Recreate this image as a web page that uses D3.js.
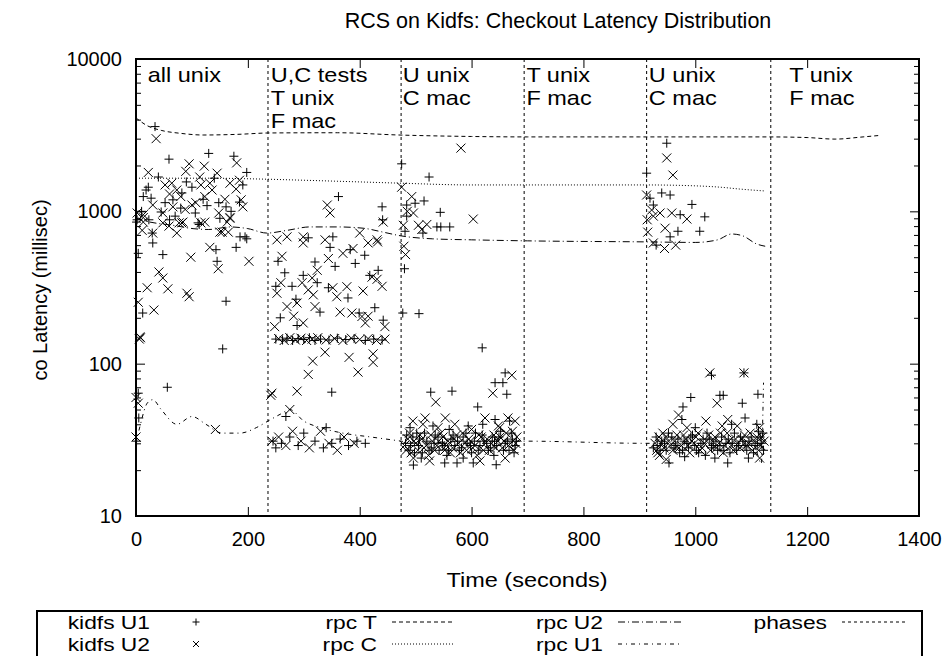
<!DOCTYPE html>
<html>
<head>
<meta charset="utf-8">
<script src="https://cdn.jsdelivr.net/npm/d3@7"></script>
<style>
  body { margin: 0; background: #fff; }
  svg text { font-family: "Liberation Sans", Arial, sans-serif; fill: #000; }
</style>
</head>
<body>
<div class="main"><svg id="svgHolder"></svg></div>
<script>
// time (seconds) / latency (ms)
let titleText = 'RCS on Kidfs: Checkout Latency Distribution';
let xTicks = [0, 200, 400, 600, 800, 1000, 1200, 1400];
let yTicks = [10, 100, 1000, 10000];

let phaseTimes = [236, 474, 694, 913, 1135];
let phaseLabelTimes = [21, 241, 477, 698, 917, 1168];
let phaseLabels = [
  ['all unix'],
  ['U,C tests', 'T unix', 'F mac'],
  ['U unix', 'C mac'],
  ['T unix', 'F mac'],
  ['U unix', 'C mac'],
  ['T unix', 'F mac']
];

let kidfsU1 = [
  [34,3600],[59,2200],[130,2400],[175,2300],[198,1800],[40,1680],[191,1490],[18,1380],[22,1440],[100,1440],
  [82,1320],[13,1250],[27,1220],[66,1190],[52,1140],[127,1090],[148,1140],[161,1070],[106,975],[70,930],
  [1,850],[23,880],[29,720],[60,880],[113,820],[195,680],[2,880],[30,620],[111,840],[186,680],[198,660],
  [143,560],[179,580],[4,530],[48,520],[145,470],[161,257],[12,215],[155,125],[56,70],[4,64],[5,44],[1,31],
  [90,1560],[140,1650],[120,1200],[170,1000],[45,990],[80,1050],[185,1150],[10,1000],[150,900],
  [254,470],[266,395],[250,322],[279,322],[286,265],[258,200],[288,178],[299,380],[308,670],[320,465],
  [324,340],[329,218],[347,580],[356,435],[344,315],[383,560],[379,270],[392,455],[409,515],[418,380],
  [433,410],[427,233],[442,193],[399,215],[362,1250],[440,1070],[441,880],[352,680],[350,65],
  [250,145],[262,143],[270,147],[280,142],[290,146],[300,144],[310,148],[320,142],[330,145],[345,143],
  [360,147],[375,144],[390,146],[410,142],[425,145],[440,143],
  [245,31],[250,28],[260,30],[275,33],[290,29],[300,35],[320,31],[335,28],[350,30],[365,32],[380,29],
  [395,31],[410,30],[268,45],[340,38],
  [475,2050],[524,1680],[499,1130],[515,1170],[484,1100],[544,985],[484,930],[538,790],[545,790],[561,790],
  [481,740],[513,720],[477,215],[506,213],[480,420],[619,127],[660,87],[642,75],[656,75],[663,63],[527,65],
  [565,66],[611,52],[531,39],[594,39],[642,43],[502,35],[496,21.6],[552,22.3],[574,22.3],[603,22.3],[644,21.7],
  [482,30],[488,27],[495,33],[505,29],[512,26],[520,31],[528,28],[535,34],[542,27],[548,30],[556,25],
  [563,32],[570,29],[578,27],[585,33],[592,30],[600,26],[607,35],[615,29],[622,31],[630,27],[637,33],
  [645,29],[652,36],[660,30],[667,27],[673,32],[678,29],[490,38],[560,37],[620,40],[668,42],[510,24],
  [585,24],[640,25],
  [484,34],[491,29],[498,26],[507,32],[516,35],[524,27],[533,30],[540,33],[551,29],[559,27],[567,34],
  [575,31],[582,28],[590,35],[598,29],[605,31],[612,27],[619,34],[627,30],[634,28],[641,31],[649,33],
  [657,27],[664,31],[671,35],[676,26],[680,31],
  [949,2800],[913,1780],[919,1220],[940,1320],[955,1280],[994,1110],[973,950],[1017,920],[925,1100],
  [1008,740],[969,740],[930,600],[955,680],
  [1029,84],[1087,87],[992,60],[1044,62],[1050,62],[1084,55],[1112,63],[978,52],[976,43],[1089,44],
  [932,29],[953,22.3],[981,24.5],[1058,22.3],
  [925,28],[940,31],[948,27],[958,33],[965,29],[972,26],[980,31],[988,28],[995,34],[1002,27],[1010,30],
  [1018,25],[1025,32],[1032,29],[1040,27],[1047,33],[1055,30],[1062,26],[1070,35],[1077,29],[1085,31],
  [1092,27],[1100,33],[1107,29],[1113,36],[1118,30],[1122,27],[1000,38],[1065,40],[1110,40],[1035,24],[1095,24],
  [930,33],[937,27],[945,30],[952,35],[962,28],[969,32],[977,27],[985,30],[992,33],[999,29],[1006,26],
  [1014,32],[1021,35],[1029,28],[1037,31],[1044,29],[1051,27],[1059,32],[1066,30],[1074,27],[1081,33],
  [1089,29],[1096,31],[1104,26],[1111,30],[1116,33],[1121,35]
];

let kidfsU2 = [
  [36,3000],[95,2050],[122,1980],[180,2080],[22,1800],[145,1780],[89,1830],[64,1530],[114,1680],[132,1530],
  [168,1530],[52,1490],[116,1490],[179,1400],[73,1380],[136,1380],[80,1250],[123,1250],[159,1200],[107,1140],
  [188,1190],[66,1070],[88,1030],[191,1070],[48,975],[148,975],[13,910],[168,900],[77,840],[116,840],
  [2,975],[13,850],[11,750],[48,840],[59,800],[73,720],[84,850],[123,850],[154,730],[163,850],[168,910],
  [13,950],[30,720],[82,840],[150,730],[165,730],[132,580],[98,500],[202,470],[147,420],[41,400],[48,365],
  [20,315],[57,310],[91,290],[95,275],[4,253],[32,225],[7,150],[6,145],[8,148],[0,60],[4,55],[0,33],[142,37],
  [100,1100],[60,1300],[185,1600],[30,1100],
  [243,64],[241,62],[243,31],[252,650],[261,507],[259,340],[252,290],[270,237],[288,250],[248,175],[282,205],
  [299,185],[299,620],[297,340],[308,305],[317,283],[324,410],[315,365],[320,237],[338,650],[344,490],
  [352,315],[359,275],[365,218],[370,530],[388,570],[377,320],[386,215],[400,720],[406,300],[404,204],
  [415,620],[422,370],[431,358],[440,322],[432,630],[415,205],[410,185],[445,175],[347,975],[342,1100],
  [442,850],[270,680],[299,680],[431,650],
  [255,146],[265,142],[275,148],[285,143],[295,147],[305,142],[315,145],[325,148],[340,143],[355,146],
  [370,142],[385,147],[400,144],[415,146],[430,142],[445,145],
  [338,119],[316,104],[308,85],[381,110],[397,88],[424,116],[424,102],[288,66],
  [255,33],[268,29],[275,50],[280,36],[295,31],[310,28],[330,36],[345,30],[360,27],[372,33],[390,30],
  [581,2600],[475,1440],[493,1250],[603,890],[496,975],[478,810],[505,810],[520,820],[511,760],[479,590],
  [482,520],[485,1000],[672,84],[638,64],[536,56],[495,42],[513,40],[517,44],[553,44],[570,40],[624,44],
  [648,39],[665,44],[678,42],[660,24],[496,24],
  [480,29],[486,32],[492,26],[500,30],[508,34],[515,28],[523,25],[530,31],[538,29],[545,35],[552,27],
  [558,31],[566,28],[573,34],[580,26],[588,30],[595,32],[602,28],[610,25],[617,33],[625,30],[632,27],
  [640,34],[647,31],[655,28],[662,35],[670,30],[676,27],[681,33],[540,38],[600,37],[650,38],[525,23],[615,23],
  [483,27],[489,35],[497,31],[504,27],[511,32],[519,29],[527,34],[534,27],[541,31],[549,33],[555,29],
  [562,26],[569,32],[577,30],[584,35],[591,27],[598,31],[606,29],[613,34],[621,27],[628,32],[636,30],
  [643,28],[651,33],[658,31],[666,29],[673,36],[679,30],
  [949,2240],[960,1730],[913,1280],[922,1020],[937,975],[958,975],[985,890],[914,880],[925,930],[946,775],
  [915,730],[925,620],[945,570],[965,600],
  [1026,87],[1087,87],[1039,55],[970,46],[942,35],[936,25],[948,23.5],[1115,24],[1019,42],[1058,43],
  [1048,39],[1115,38],[933,26],[960,40],
  [928,30],[935,33],[944,28],[952,31],[960,27],[967,34],[975,29],[983,32],[990,26],[998,30],[1005,35],
  [1012,28],[1020,31],[1027,27],[1035,33],[1042,30],[1050,26],[1057,35],[1064,29],[1072,32],[1080,28],
  [1088,34],[1095,30],[1102,27],[1110,33],[1117,29],[1123,31],[985,38],[1075,39],
  [931,27],[939,30],[947,33],[955,29],[963,31],[971,28],[979,34],[987,29],[994,31],[1001,33],[1009,27],
  [1016,30],[1024,34],[1031,31],[1038,28],[1045,35],[1053,29],[1060,31],[1068,27],[1076,30],[1083,32],
  [1091,29],[1098,35],[1106,31],[1113,27],[1119,33]
];

let rpcT = [[0,4100],[20,3650],[45,3400],[80,3250],[120,3170],[180,3200],[240,3270],[360,3280],[470,3170],
  [600,3100],[700,3080],[900,3080],[1130,3080],[1200,3050],[1250,2980],[1300,3080],[1330,3150]];
let rpcC = [[0,1650],[130,1650],[220,1630],[300,1600],[400,1560],[474,1530],[600,1490],[694,1490],
  [913,1490],[1000,1470],[1045,1440],[1080,1400],[1125,1360]];
let rpcU2 = [[0,900],[25,850],[66,810],[102,770],[130,760],[168,790],[200,770],[234,720],[270,750],[311,790],
  [360,790],[406,775],[442,730],[474,690],[530,660],[600,650],[700,640],[913,630],[1000,625],[1040,650],
  [1065,710],[1085,690],[1110,610],[1125,590]];
let rpcU1 = [[0,30],[8,40],[20,55],[30,58],[45,50],[73,40],[100,45],[125,40],[154,35],[186,35],[215,38],
  [236,42],[260,47],[275,50],[300,42],[330,38],[370,35],[420,33],[474,31],[500,30],[600,31],[694,31],
  [913,30],[1000,30],[1100,30],[1112,25],[1118,22],[1121,50],[1122,75]];

let width = 944;
let height = 656;
let plotLeft = 136, plotRight = 919, plotTop = 59, plotBottom = 516;
let wide = 1.12;   // the reference text is drawn a bit wider than it is tall

let xScale;
let yScale;
let svg = d3.select('#svgHolder');

function drawSvgHolder() {
    svg.attr('width', width).attr('height', height);
}

function generateScales() {
    xScale = d3.scaleLinear().domain([0, 1400]).range([plotLeft, plotRight]);
    yScale = d3.scaleLog().domain([10, 10000]).range([plotBottom, plotTop]);
}

function styleAxis(g) {
    g.select('.domain').remove();
    g.selectAll('.tick line').attr('stroke', '#000').attr('stroke-width', 1);
    g.selectAll('text').style('font-size', '20px').attr('fill', '#000')
        .style('font-family', '"Liberation Sans", Arial, sans-serif');
}

function drawAxis() {
    let minor = [];
    [10, 100, 1000].forEach((d) => {
        for (let k = 2; k <= 9; k++) minor.push(d * k);
    });

    svg.append('g')
        .attr('transform', 'translate(0,' + plotBottom + ')')
        .call(d3.axisBottom(xScale).tickValues(xTicks).tickFormat(d3.format('d'))
            .tickSizeInner(-9).tickSizeOuter(0).tickPadding(16))
        .call(styleAxis);
    svg.append('g')
        .attr('transform', 'translate(0,' + plotTop + ')')
        .call(d3.axisTop(xScale).tickValues(xTicks).tickFormat('')
            .tickSizeInner(-9).tickSizeOuter(0))
        .call(styleAxis);

    svg.append('g')
        .attr('transform', 'translate(' + plotLeft + ',0)')
        .call(d3.axisLeft(yScale).tickValues(yTicks).tickFormat(d3.format('d'))
            .tickSizeInner(-9).tickSizeOuter(0).tickPadding(14))
        .call(styleAxis);
    svg.append('g')
        .attr('transform', 'translate(' + plotLeft + ',0)')
        .call(d3.axisLeft(yScale).tickValues(minor).tickFormat('').tickSizeInner(-5).tickSizeOuter(0))
        .call(styleAxis);
    svg.append('g')
        .attr('transform', 'translate(' + plotRight + ',0)')
        .call(d3.axisRight(yScale).tickValues(yTicks).tickFormat('').tickSizeInner(-9).tickSizeOuter(0))
        .call(styleAxis);
    svg.append('g')
        .attr('transform', 'translate(' + plotRight + ',0)')
        .call(d3.axisRight(yScale).tickValues(minor).tickFormat('').tickSizeInner(-5).tickSizeOuter(0))
        .call(styleAxis);

    svg.append('rect')
        .attr('x', plotLeft).attr('y', plotTop)
        .attr('width', plotRight - plotLeft).attr('height', plotBottom - plotTop)
        .attr('fill', 'none').attr('stroke', '#000').attr('stroke-width', 2);
}

// text placed at (x,y) and stretched horizontally around its anchor
function wideText(x, y, anchor, size, s, k) {
    return svg.append('text')
        .attr('transform', 'translate(' + x + ',' + y + ') scale(' + (k || wide) + ',1)')
        .attr('text-anchor', anchor)
        .style('font-size', size + 'px')
        .text(s);
}

function drawTexts() {
    svg.append('text')
        .attr('x', 558).attr('y', 28)
        .attr('text-anchor', 'middle')
        .style('font-size', '21.5px')
        .text(titleText);
    wideText(527, 587, 'middle', 21, 'Time (seconds)');
    svg.append('text')
        .attr('transform', 'translate(47,290) rotate(-90)')
        .attr('text-anchor', 'middle')
        .style('font-size', '20px')
        .text('co Latency (millisec)');
}

function drawPhases() {
    svg.selectAll('.phase')
        .data(phaseTimes)
        .enter()
        .append('line')
        .attr('class', 'phase')
        .attr('x1', (d) => xScale(d)).attr('x2', (d) => xScale(d))
        .attr('y1', plotTop).attr('y2', plotBottom)
        .attr('stroke', '#000').attr('stroke-width', 1)
        .attr('stroke-dasharray', '3,3');

    phaseLabels.forEach((lines, i) => {
        let t = wideText(xScale(phaseLabelTimes[i]), 82, 'start', 21, null);
        lines.forEach((s, j) => {
            t.append('tspan')
                .attr('x', 0)
                .attr('dy', j == 0 ? 0 : 23)
                .text(s);
        });
    });
}

function drawLines() {
    let line = d3.line()
        .x((d) => xScale(d[0]))
        .y((d) => yScale(d[1]))
        .curve(d3.curveMonotoneX);
    let defs = [
        [rpcT, '4,3'],
        [rpcC, '1,2'],
        [rpcU2, '7,3,1,3'],
        [rpcU1, '4,4,1,4']
    ];
    defs.forEach((d) => {
        svg.append('path')
            .datum(d[0])
            .attr('d', line)
            .attr('fill', 'none')
            .attr('stroke', '#000')
            .attr('stroke-width', 1)
            .attr('stroke-dasharray', d[1]);
    });
}

function plusPath(s) {
    return 'M' + (-s) + ',0H' + s + 'M0,' + (-s) + 'V' + s;
}
function crossPath(s) {
    return 'M' + (-s) + ',' + (-s) + 'L' + s + ',' + s + 'M' + (-s) + ',' + s + 'L' + s + ',' + (-s);
}

function drawPoints() {
    svg.append('g').selectAll('path')
        .data(kidfsU1)
        .enter()
        .append('path')
        .attr('transform', (d) => 'translate(' + xScale(d[0]) + ',' + yScale(d[1]) + ')')
        .attr('d', plusPath(4.5))
        .attr('stroke', '#000').attr('stroke-width', 1).attr('fill', 'none');

    svg.append('g').selectAll('path')
        .data(kidfsU2)
        .enter()
        .append('path')
        .attr('transform', (d) => 'translate(' + xScale(d[0]) + ',' + yScale(d[1]) + ')')
        .attr('d', crossPath(4.5))
        .attr('stroke', '#000').attr('stroke-width', 1).attr('fill', 'none');
}

function drawLegend() {
    svg.append('rect')
        .attr('x', 37).attr('y', 611)
        .attr('width', 885).attr('height', 70)
        .attr('fill', 'none').attr('stroke', '#000').attr('stroke-width', 2);

    let rows = [629, 651];
    let names = ['kidfs U1', 'kidfs U2'];
    names.forEach((n, i) => {
        wideText(150, rows[i], 'end', 19, n, 1.2);
    });
    svg.append('path').attr('transform', 'translate(196,' + (rows[0] - 7) + ')')
        .attr('d', plusPath(3.5)).attr('stroke', '#000').attr('fill', 'none');
    svg.append('path').attr('transform', 'translate(196,' + (rows[1] - 7) + ')')
        .attr('d', crossPath(3)).attr('stroke', '#000').attr('fill', 'none');

    let lineItems = [
        ['rpc T', 377, 0, '4,3'],
        ['rpc C', 377, 1, '1,2'],
        ['rpc U2', 603, 0, '7,3,1,3'],
        ['rpc U1', 603, 1, '4,4,1,4'],
        ['phases', 827, 0, '3,3']
    ];
    lineItems.forEach((d) => {
        let y = rows[d[2]];
        wideText(d[1], y, 'end', 19, d[0], 1.2);
        svg.append('line')
            .attr('x1', d[1] + 15).attr('x2', d[1] + 78)
            .attr('y1', y - 7).attr('y2', y - 7)
            .attr('stroke', '#000').attr('stroke-width', 1)
            .attr('stroke-dasharray', d[3]);
    });
}

drawSvgHolder();
generateScales();
drawAxis();
drawTexts();
drawPhases();
drawLines();
drawPoints();
drawLegend();
</script>
</body>
</html>
